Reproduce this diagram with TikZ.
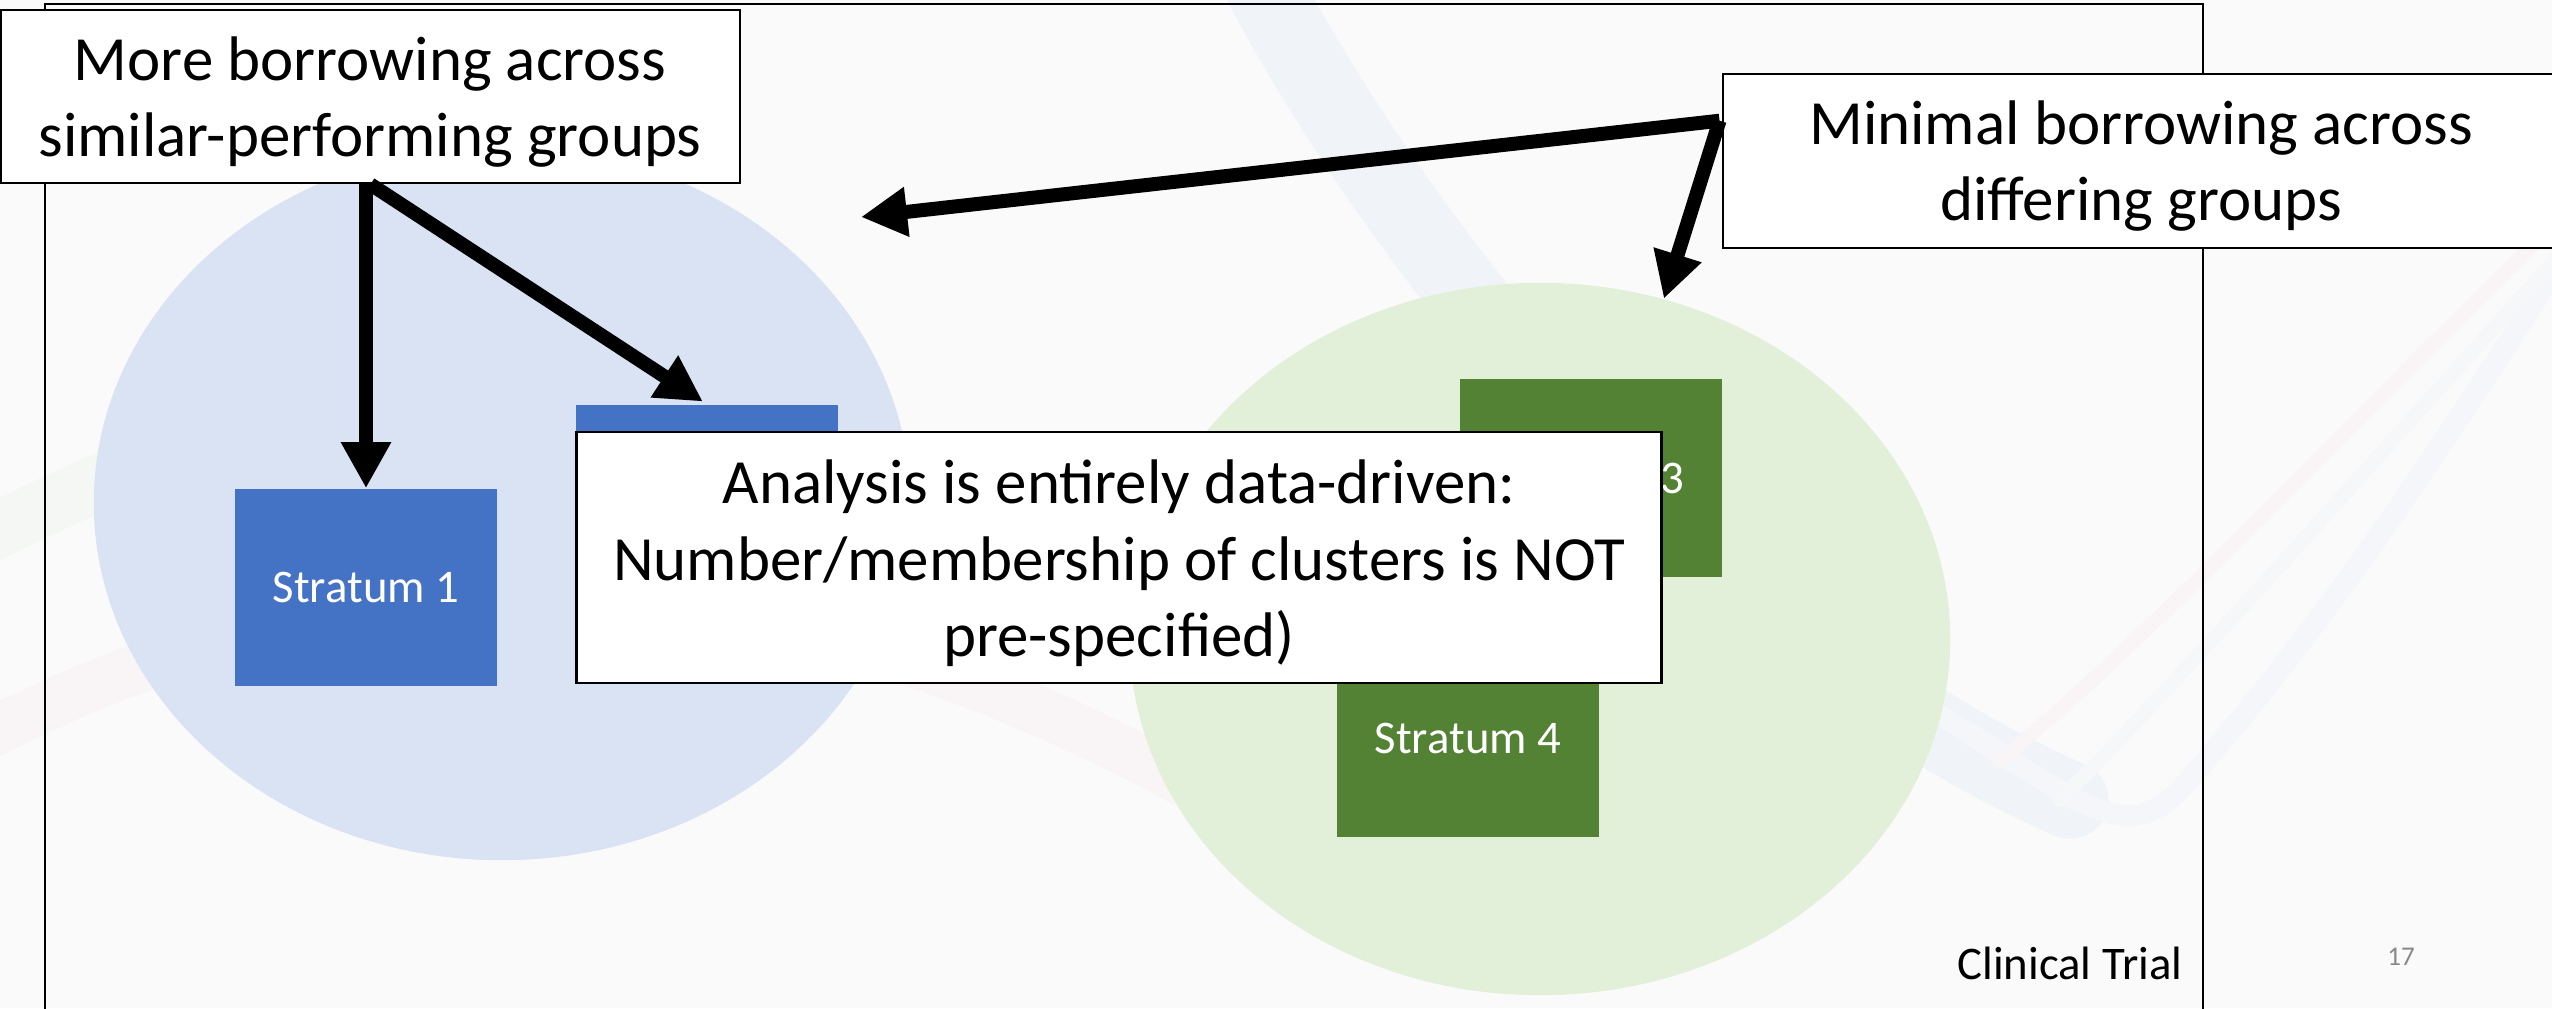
\documentclass[tikz,border=0pt]{standalone}
\usepackage{fontspec}
\setmainfont{Carlito}
\usetikzlibrary{arrows.meta,shapes.geometric,calc}
\definecolor{bg}{RGB}{250,250,250}
\definecolor{lblue}{RGB}{218,227,243}
\definecolor{lgreen}{RGB}{226,240,217}
\definecolor{sblue}{RGB}{68,114,196}
\definecolor{sgreen}{RGB}{84,130,53}
\definecolor{swblue}{RGB}{240,244,248}
\definecolor{swbluethin}{RGB}{244,246,249}
\definecolor{swpink}{RGB}{249,245,246}
\definecolor{swgrey}{RGB}{246,247,248}
\definecolor{swgreen}{RGB}{244,247,244}
\definecolor{pnum}{RGB}{137,137,137}
\begin{document}
\begin{tikzpicture}[x=0.01cm,y=-0.01cm,
  callout/.style={draw=black, line width=0.71pt, fill=white, rectangle, inner sep=0pt},
  calltext/.style={font=\fontsize{17.9}{21.8}\selectfont, align=center, inner sep=0pt},
  stratum/.style={rectangle, inner sep=0pt, minimum width=2.61cm, minimum height=1.97cm, text=white, font=\fontsize{13.3}{16}\selectfont},
  cluster/.style={ellipse, inner sep=0pt},
  arr/.style={line width=3.98pt, -{Triangle[length=0.46cm,width=0.47cm]}},
  frameline/.style={line width=0.57pt},
  swoosh/.style={line cap=round}
]
\useasboundingbox (0,0) rectangle (2552,1008);
\clip (0,0) rectangle (2552,1008);
\fill[bg] (0,0) rectangle (2552,1008);

% faint background artwork
\draw[swoosh, swgreen, line width=16pt] (-60,560) .. controls (200,420) and (500,330) .. (800,300);
\draw[swoosh, swpink, line width=14pt] (-60,760) .. controls (300,560) and (700,520) .. (1180,780);
\draw[swoosh, swblue, line width=22pt] (1250,-40) .. controls (1380,220) and (1700,640) .. (2070,800);
\draw[swoosh, swbluethin, line width=6pt] (1900,690) .. controls (2080,800) and (2120,850) .. (2180,790) .. controls (2330,620) and (2440,450) .. (2600,200);
\draw[swoosh, swpink, line width=4pt] (2000,760) .. controls (2150,640) and (2350,420) .. (2600,180);
\draw[swoosh, swgrey, line width=4pt] (2060,800) .. controls (2200,660) and (2400,430) .. (2600,210);

% slide frame
\draw[frameline] (45,1040) -- (45,4) -- (2203,4) -- (2203,1040);

% clusters
\node[cluster, fill=lblue, minimum width=8.16cm, minimum height=7.14cm] (c1) at (502,503) {};
\node[cluster, fill=lgreen, minimum width=8.2cm, minimum height=7.12cm] (c2) at (1540,639) {};

% strata
\node[stratum, fill=sblue] (s1) at (366,587.5) {Stratum 1};
\node[stratum, fill=sblue] (s2) at (707,503.5) {};
\node[stratum, fill=sgreen] (s3) at (1591,478) {Stratum 3};
\node[stratum, fill=sgreen] (s4) at (1468,738.5) {Stratum 4};

% callouts
\node[callout, minimum width=10.84cm, minimum height=2.51cm] (b3) at (1119,557.5) {};
\node[calltext] (t3) at (1119,563.5) {Analysis is entirely data-driven:\\Number/membership of clusters is NOT\\pre-specified)};

\node[callout, minimum width=7.39cm, minimum height=1.73cm] (b1) at (370.5,96.5) {};
\node[calltext] (t1) at (370,102) {More borrowing across\\similar-performing groups};

\node[callout, minimum width=8.36cm, minimum height=1.74cm] (b2) at (2141,161) {};
\node[calltext] (t2) at (2141,166) {Minimal borrowing across\\differing groups};

% footer
\node[anchor=base east, inner sep=0pt, font=\fontsize{13.3}{16}\selectfont] (ct) at (2183,979) {Clinical Trial};
\node[anchor=base, inner sep=0pt, font=\fontsize{7.7}{9}\selectfont, text=pnum] (pg) at (2401,965) {17};

% arrows
\coordinate (j2) at ($(b2.north west)+(-2,48)$);
\coordinate (tc) at (861,217);
\draw[arr] (b1.south -| s1.north) -- (s1.north);
\draw[arr, shorten >=1.4pt] (b1.south) -- (s2.north);
\draw[arr] (j2) -- (tc);
\draw[arr] (j2) -- (c2.70);
\end{tikzpicture}
\end{document}
